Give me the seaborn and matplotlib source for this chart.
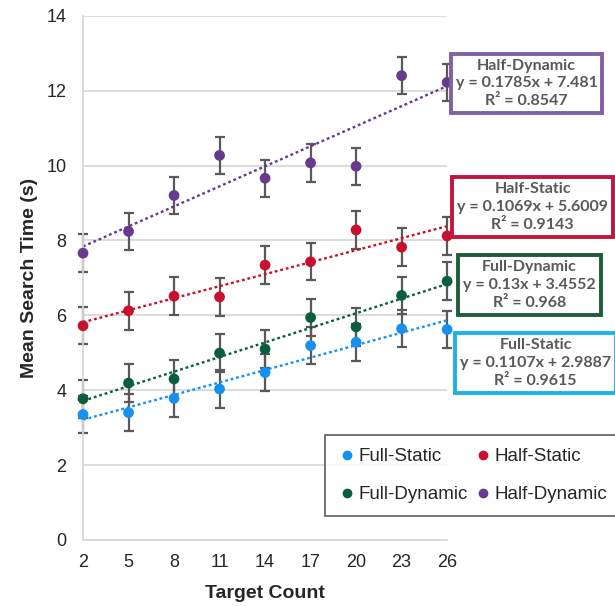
import numpy as np
import pandas as pd
import seaborn as sns
import matplotlib.pyplot as plt

# Data
target_count = [2, 5, 8, 11, 14, 17, 20, 23, 26]
full_static = [3.35, 3.40, 3.78, 4.03, 4.47, 5.19, 5.28, 5.64, 5.62]
half_static = [5.72, 6.12, 6.51, 6.49, 7.34, 7.43, 8.28, 7.82, 8.12]
full_dynamic = [3.77, 4.19, 4.30, 4.99, 5.10, 5.94, 5.69, 6.53, 6.91]
half_dynamic = [7.66, 8.24, 9.20, 10.27, 9.66, 10.07, 9.98, 12.40, 12.22]
error = [0.5] * 9

conditions = ['Full-Static', 'Half-Static', 'Full-Dynamic', 'Half-Dynamic']
slopes = [0.1107, 0.1069, 0.13, 0.1785]
intercepts = [2.9887, 5.6009, 3.4552, 7.481]
eq_labels = ['y = 0.1107x + 2.9887', 'y = 0.1069x + 5.6009', 'y = 0.13x + 3.4552', 'y = 0.1785x + 7.481']
r2_labels = ['R² = 0.9615', 'R² = 0.9143', 'R² = 0.968', 'R² = 0.8547']

point_colors = ['#1591F2', '#C8102E', '#0B5E3C', '#673A8E']
box_colors = ['#1FB2E6', '#C3163D', '#1E5C3A', '#7F62A6']

df = pd.DataFrame({
    'Target Count': target_count * 4,
    'Mean Search Time (s)': full_static + half_static + full_dynamic + half_dynamic,
    'Condition': [c for c in conditions for _ in target_count],
})

sns.set_style('white')
plt.rcParams['font.family'] = ['Liberation Sans', 'DejaVu Sans']

fig = plt.figure(figsize=(6.15, 6.06), dpi=100)
ax = fig.add_axes([0.135, 0.109, 0.592, 0.865])

# Error bars
series = [full_static, half_static, full_dynamic, half_dynamic]
for vals in series:
    ax.errorbar(target_count, vals, yerr=error, fmt='none', ecolor='#595959',
                elinewidth=1.6, capsize=3.5, capthick=1.6, zorder=2, clip_on=False)

# Trendlines from the fitted equations
xs = np.array([2, 26])
for m, b, col in zip(slopes, intercepts, point_colors):
    ax.plot(xs, m * xs + b, linestyle=(0, (1.2, 1.2)), color=col, lw=1.7, zorder=2)

sns.scatterplot(data=df, x='Target Count', y='Mean Search Time (s)', hue='Condition',
                palette=dict(zip(conditions, point_colors)), s=60, edgecolor='none',
                ax=ax, zorder=3, clip_on=False, legend=False)

ax.set_xlim(2, 26)
ax.set_ylim(0, 14)
ax.set_xticks(target_count)
ax.set_yticks(range(0, 15, 2))
ax.yaxis.grid(True, color='#D9D9D9', lw=1.3)
ax.set_axisbelow(True)
for s in ['top', 'right']:
    ax.spines[s].set_visible(False)
for s in ['left', 'bottom']:
    ax.spines[s].set_color('#D9D9D9')
    ax.spines[s].set_linewidth(1.3)
ax.tick_params(axis='both', length=0, labelsize=13)
ax.tick_params(axis='y', pad=12)
ax.tick_params(axis='x', pad=10)
ax.set_xlabel('Target Count', fontsize=14, fontweight='bold', labelpad=10)
ax.set_ylabel('Mean Search Time (s)', fontsize=14, fontweight='bold', labelpad=6)

# Legend (two columns, row order Full-Static / Half-Static)
order = [0, 2, 1, 3]
handles = [plt.Line2D([], [], marker='o', ls='none', color=point_colors[i], markersize=6)
           for i in order]
labels = [conditions[i] for i in order]
leg = fig.legend(handles, labels, ncol=2, loc='center',
                 bbox_to_anchor=(0.768, 0.215), fontsize=13.5, frameon=True,
                 fancybox=False, edgecolor='#333333', handletextpad=0.1,
                 columnspacing=0.3, labelspacing=1.1, borderpad=0.7, handlelength=1.0)
leg.get_frame().set_linewidth(1.2)

# Trendline equation boxes
box_pos = [(535.5, 363), (532.5, 207), (529.5, 285), (526.5, 83.5)]
for i, (px, py) in enumerate(box_pos):
    fig.text(px / 615, 1 - py / 606,
             f'{conditions[i]}\n{eq_labels[i]}\n{r2_labels[i]}',
             ha='center', va='center', fontsize=11.5, color='#595959',
             fontweight='bold', family=['Lato', 'DejaVu Sans'], linespacing=1.35,
             bbox=dict(boxstyle='square,pad=0.3', fc='white', ec=box_colors[i], lw=2.8))

plt.savefig('out.png', dpi=100)
